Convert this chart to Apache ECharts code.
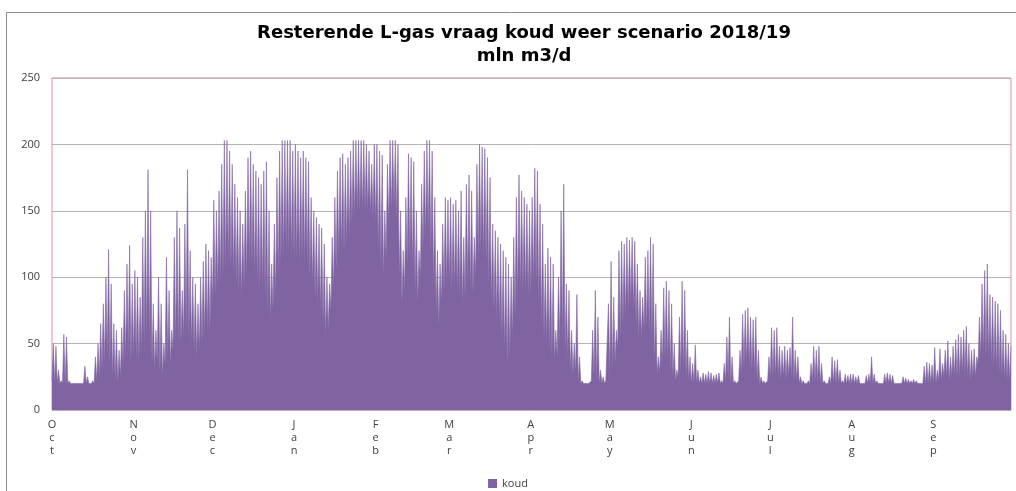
<!DOCTYPE html>
<html>
<head>
<meta charset="utf-8">
<script src="https://cdn.jsdelivr.net/npm/echarts@6/dist/echarts.min.js"></script>
<style>
html,body{margin:0;padding:0;background:#fff;}
#c{width:1016px;height:491px;}
</style>
</head>
<body>
<div id="c"></div>
<script>
// Month tick labels and the day index (from 1 Oct 2018) where each month starts
const monthNames = ['Oct','Nov','Dec','Jan','Feb','Mar','Apr','May','Jun','Jul','Aug','Sep'];
const monthStartDays = [0,31,61,92,123,151,182,212,243,273,304,335];

// Daily peak (hourly maximum) of series "koud", mln m3/d
const dailyPeak = [
  // Oct
  50,48,30,22,57,55,22,20,21,21,20,21,33,25,20,22,40,50,65,80,100,121,95,65,60,45,62,90,110,124,95,
  // Nov
  105,100,85,130,150,181,150,80,60,100,80,50,115,90,60,130,150,137,90,140,181,120,100,95,80,100,112,125,120,115,
  // Dec
  158,150,165,185,203,203,195,185,170,160,150,140,165,190,195,185,180,175,170,180,187,150,110,140,175,195,203,203,203,203,195,
  // Jan
  200,195,190,195,190,187,160,150,145,140,137,125,100,95,130,160,180,190,193,185,190,195,203,203,203,203,203,200,195,185,200,
  // Feb
  200,195,192,150,185,203,203,203,200,150,120,160,193,190,187,150,120,170,195,203,203,195,160,120,110,140,160,158,
  // Mar
  160,155,158,150,165,130,170,177,165,130,185,200,198,197,190,175,140,135,130,125,120,115,110,100,130,160,177,165,160,155,150,
  // Apr
  160,182,180,155,140,110,122,115,110,60,100,150,170,95,90,60,50,87,40,22,20,20,21,60,90,70,30,25,22,80,
  // May
  112,85,60,120,127,125,130,128,130,127,110,90,85,115,120,130,125,80,40,60,92,97,90,80,50,30,70,97,90,60,40,
  // Jun
  35,49,30,25,28,27,29,28,26,27,28,22,35,55,70,40,22,21,45,72,75,77,70,68,70,45,25,22,21,40,
  // Jul
  62,60,62,48,45,48,45,47,70,45,40,25,22,21,22,35,48,45,48,35,22,21,25,40,37,38,30,22,27,26,27,
  // Aug
  27,25,26,20,21,26,27,40,27,22,20,21,27,28,27,26,21,20,21,25,24,23,22,23,22,21,20,33,36,35,34,
  // Sep
  47,30,46,35,45,52,40,48,53,57,55,60,63,50,45,46,40,70,95,105,110,87,85,82,80,75,60,57,50,48
];

// Daily trough (hourly minimum) of series "koud", mln m3/d
const dailyTrough = [
  // Oct
  22,20,20,20,20,20,20,20,20,20,20,20,20,20,20,20,20,22,25,30,35,40,35,25,22,20,25,35,40,45,35,
  // Nov
  40,38,35,45,50,55,50,35,30,35,28,25,35,40,35,45,50,48,50,55,60,55,50,45,40,45,50,55,60,60,
  // Dec
  80,85,90,95,100,105,110,105,100,95,90,85,95,100,110,110,100,95,90,90,85,75,67,75,85,100,110,115,120,120,115,
  // Jan
  115,112,110,115,112,110,100,95,85,80,75,65,55,60,75,90,105,115,120,120,125,130,140,145,150,150,150,150,150,148,145,
  // Feb
  140,120,110,100,115,140,150,153,145,100,80,90,110,115,105,90,80,100,120,130,135,120,95,75,63,80,90,95,
  // Mar
  95,90,92,90,88,78,85,95,90,88,100,115,120,115,110,95,80,75,70,65,55,45,34,40,55,70,85,90,90,88,85,
  // Apr
  85,95,95,80,65,55,50,45,40,37,40,50,55,45,40,30,27,28,22,20,20,20,20,22,25,22,20,20,20,22,
  // May
  25,30,35,45,55,65,70,75,80,75,65,55,55,60,62,60,55,35,27,28,35,40,38,30,25,22,25,28,30,25,22,
  // Jun
  20,20,20,20,20,20,20,20,20,20,20,20,20,22,25,20,20,20,22,28,33,35,33,30,28,22,20,20,20,22,
  // Jul
  25,25,25,25,22,25,23,25,25,22,22,20,20,20,20,20,22,22,22,20,20,20,20,20,20,20,20,20,20,20,20,
  // Aug
  20,20,20,20,20,20,20,20,20,20,20,20,20,20,20,20,20,20,20,20,20,20,20,20,20,20,20,20,20,20,20,
  // Sep
  20,20,22,22,25,25,22,25,25,25,25,28,28,25,22,25,25,35,40,42,40,38,35,32,30,28,25,22,22,22
];

const seriesName = 'koud';
const titleText = 'Resterende L-gas vraag koud weer scenario 2018/19\nmln m3/d';

// Build category axis + values: per day a trough point then a peak point
const categories = [];
const values = [];
for (let d = 0; d < dailyPeak.length; d++) {
  const mi = monthStartDays.indexOf(d);
  categories.push(mi >= 0 ? monthNames[mi] : '');
  categories.push('');
  values.push(dailyTrough[d]);
  values.push(dailyPeak[d]);
}

const chart = echarts.init(document.getElementById('c'), null, {renderer: 'canvas'});
chart.setOption({
  animation: false,
  backgroundColor: '#ffffff',
  title: {
    text: titleText,
    left: 519,
    textAlign: 'center',
    top: 17,
    textStyle: {
      fontFamily: 'DejaVu Sans',
      fontWeight: 'bold',
      fontSize: 18,
      color: '#000000',
      lineHeight: 23
    }
  },
  legend: {
    top: 473,
    left: 'center',
    itemWidth: 9,
    itemHeight: 9,
    itemGap: 4,
    icon: 'rect',
    textStyle: {fontFamily: 'Open Sans', fontSize: 11, color: '#404040'},
    data: [seriesName]
  },
  graphic: [{
    type: 'rect',
    shape: {x: 6.5, y: 12.5, width: 1020, height: 500},
    style: {fill: 'none', stroke: '#8c8c8c', lineWidth: 1},
    silent: true,
    z: -1
  }],
  grid: {
    left: 52,
    right: 5,
    top: 78,
    bottom: 81,
    show: true,
    borderColor: '#e58c97',
    borderWidth: 1,
    backgroundColor: 'transparent'
  },
  xAxis: {
    type: 'category',
    data: categories,
    boundaryGap: false,
    axisLine: {show: false},
    axisTick: {show: false},
    axisLabel: {
      interval: function (idx, val) { return val !== ''; },
      formatter: function (val) { return val.split('').join('\n'); },
      fontFamily: 'Open Sans',
      fontSize: 11,
      lineHeight: 13,
      color: '#404040',
      margin: 8
    },
    splitLine: {show: false}
  },
  yAxis: {
    type: 'value',
    min: 0,
    max: 250,
    interval: 50,
    axisLine: {show: false},
    axisTick: {show: false},
    axisLabel: {fontFamily: 'Open Sans', fontSize: 11, color: '#404040', margin: 12},
    splitLine: {lineStyle: {color: '#b4b4b4', width: 1}}
  },
  series: [{
    name: seriesName,
    type: 'line',
    data: values,
    symbol: 'none',
    showSymbol: false,
    sampling: null,
    lineStyle: {width: 0.6, color: '#8064a2'},
    itemStyle: {color: '#8064a2'},
    areaStyle: {color: '#8064a2', opacity: 1}
  }]
});
</script>
</body>
</html>
